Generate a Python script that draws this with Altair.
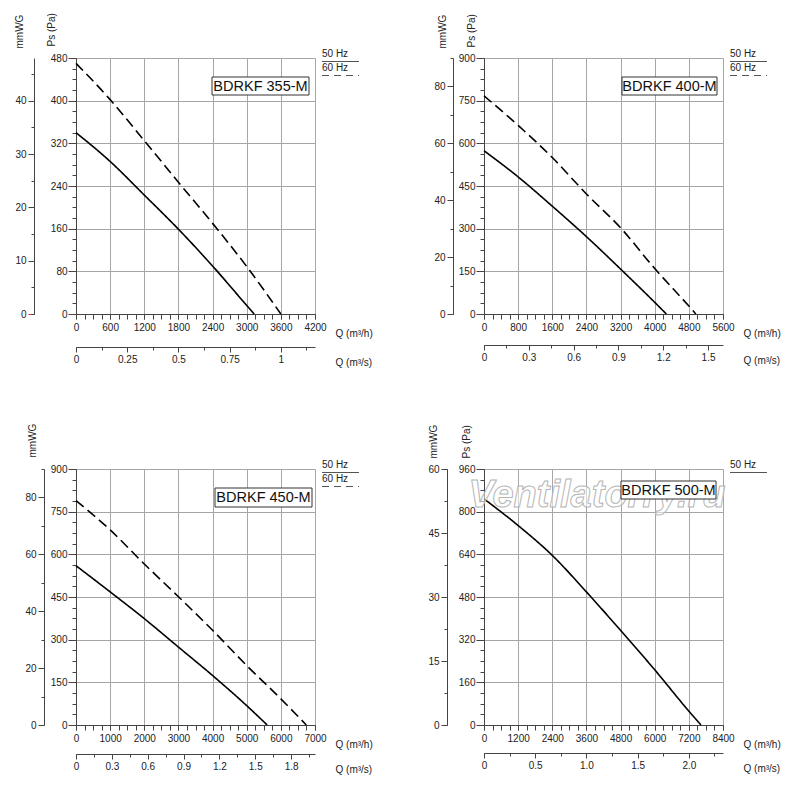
import altair as alt
import pandas as pd

FONT = "Liberation Sans"

# ---------------- data ----------------
models = ["BDRKF 355-M", "BDRKF 400-M", "BDRKF 450-M", "BDRKF 500-M"]
freq_labels = ["50 Hz", "60 Hz"]

q355_50 = [0, 600, 1200, 1800, 2400, 3000, 3130]
p355_50 = [340, 286, 223, 159, 90, 16, 0]
q355_60 = [0, 600, 1200, 1800, 2400, 3000, 3600]
p355_60 = [470, 402, 325, 247, 170, 89, 0]

q400_50 = [0, 800, 1600, 2400, 3200, 4000, 4273]
p400_50 = [574, 482, 379, 272, 158, 41, 0]
q400_60 = [0, 800, 1600, 2400, 3200, 4000, 4800, 4965]
p400_60 = [767, 663, 550, 422, 303, 160, 28, 0]

q450_50 = [0, 1000, 2000, 3000, 4000, 5000, 5600]
p450_50 = [560, 468, 374, 274, 174, 68, 0]
q450_60 = [0, 1000, 2000, 3000, 4000, 5000, 6000, 6746]
p450_60 = [789, 686, 566, 451, 333, 209, 92, 0]

q500_50 = [0, 1200, 2400, 3600, 4800, 6000, 7200, 7625]
p500_50 = [848, 748, 636, 499, 355, 207, 52, 0]

watermark_text = "Ventilatorry.ru"

W, H = 239, 256
AX = "#444444"
LBL = "#222222"
GRID = "#a6a6a6"


def ticks(maxv, step):
    n = int(maxv / step + 1e-6)
    return [round(i * step, 4) for i in range(n + 1)]


def panel(title, curves, sp):
    rows = []
    for freq, qs, ps in curves:
        for q, p in zip(qs, ps):
            rows.append({"Q": q, "P": p, "freq": freq})
    df = pd.DataFrame(rows)
    zero = pd.DataFrame({"a": [0.0], "b": [0.0]})
    one = pd.DataFrame({"t": [title]})

    if sp["pa_title"]:
        pa_kw = dict(title="Ps (Pa)", titleAngle=270, titleAlign="left",
                     titleBaseline="middle", titleX=sp["pa_tx"], titleY=sp["pa_ty"])
    else:
        pa_kw = dict(title=None)

    main = alt.Chart(df).mark_line(color="black", strokeWidth=1.6, interpolate="monotone").encode(
        x=alt.X("Q:Q", scale=alt.Scale(domain=[0, sp["xmax"]], nice=False, zero=False),
                axis=alt.Axis(orient="bottom", values=ticks(sp["xmax"], sp["xmaj"]),
                              labelExpr="format(datum.value, 'd')",
                              grid=True, tickSize=5, labelPadding=3,
                              title="Q (m³/h)", titleX=W + 20, titleY=19, titleAlign="left",
                              titleBaseline="middle", titleAngle=0)),
        y=alt.Y("P:Q", scale=alt.Scale(domain=[0, sp["ymax"]], nice=False, zero=False),
                axis=alt.Axis(orient="left", values=ticks(sp["ymax"], sp["ymaj"]),
                              labelExpr="format(datum.value, 'd')",
                              grid=True, tickSize=8, labelPadding=1, **pa_kw)),
        strokeDash=alt.StrokeDash("freq:N", scale=alt.Scale(domain=freq_labels, range=[[1, 0], [10, 5]]),
                                  legend=None),
        detail="freq:N",
    )

    minor = alt.Chart(zero).mark_point(opacity=0).encode(
        x=alt.X("a:Q", scale=alt.Scale(domain=[0, sp["xmax"]], nice=False, zero=False),
                axis=alt.Axis(orient="bottom", values=ticks(sp["xmax"], sp["xmin"]), labels=False,
                              domain=False, grid=False, tickSize=5, title=None)),
        y=alt.Y("b:Q", scale=alt.Scale(domain=[0, sp["ymax"]], nice=False, zero=False),
                axis=alt.Axis(orient="left", values=ticks(sp["ymax"], sp["ymin"]), labels=False,
                              domain=False, grid=False, tickSize=4, title=None)),
    )

    qs_expr = sp["qs_expr"] or "format(datum.value, '~g')"

    mm_kw = {}
    if sp.get("red_zero"):
        mm_kw = dict(tickColor={"condition": {"test": "datum.value === 0", "value": "#e03030"}, "value": AX})

    sec = alt.Chart(zero).mark_point(opacity=0).encode(
        x=alt.X("a:Q", scale=alt.Scale(domain=[0, sp["qsmax"]], nice=False, zero=False),
                axis=alt.Axis(orient="bottom", offset=sp["qs_off"], values=ticks(sp["qsmax"], sp["qsmaj"]),
                              grid=False, tickSize=5, labelPadding=2, labelExpr=qs_expr,
                              title="Q (m³/s)", titleX=W + 20, titleY=15, titleAlign="left",
                              titleBaseline="middle", titleAngle=0)),
        y=alt.Y("b:Q", scale=alt.Scale(domain=[0, sp["mmmax"]], nice=False, zero=False),
                axis=alt.Axis(orient="left", offset=sp["mm_off"], values=ticks(sp["mmmax"], sp["mmmaj"]),
                              labelExpr="format(datum.value, 'd')", grid=False, tickSize=6, labelPadding=2,
                              title="mmWG", titleAngle=270, titleAlign="left", titleBaseline="middle",
                              titleX=sp["mm_tx"], titleY=sp["mm_ty"], **mm_kw)),
    )

    secminor = alt.Chart(zero).mark_point(opacity=0).encode(
        x=alt.X("a:Q", scale=alt.Scale(domain=[0, sp["qsmax"]], nice=False, zero=False),
                axis=alt.Axis(orient="bottom", offset=sp["qs_off"], values=ticks(sp["qsmax"], sp["qsmin"]),
                              labels=False, domain=False, grid=False, tickSize=3, title=None)),
        y=alt.Y("b:Q", scale=alt.Scale(domain=[0, sp["mmmax"]], nice=False, zero=False),
                axis=alt.Axis(orient="left", offset=sp["mm_off"], values=ticks(sp["mmmax"], sp["mmmin"]),
                              labels=False, domain=False, grid=False, tickSize=3, title=None)),
    )

    layers = [main, minor, sec, secminor]

    # legend (50 Hz solid, 60 Hz dashed)
    nleg = 2 if sp["has60"] else 1
    for i in range(nleg):
        lab = pd.DataFrame({"t": [freq_labels[i]]})
        layers.append(alt.Chart(lab).mark_text(align="left", baseline="middle", font=FONT,
                                               fontSize=10, color=LBL).encode(
            text="t:N", x=alt.value(W + 7), y=alt.value(-4 + 14 * i)))
        rule_kw = {} if i == 0 else {"strokeDash": [7, 5]}
        layers.append(alt.Chart(lab).mark_rule(color="#555555", strokeWidth=1, **rule_kw).encode(
            x=alt.value(W + 7), x2=alt.value(W + 44), y=alt.value(3.5 + 14 * i)))

    if sp.get("watermark"):
        wm = pd.DataFrame({"t": [watermark_text]})
        layers.append(alt.Chart(wm).mark_text(font=FONT, fontSize=38, fontStyle="italic", fontWeight="bold",
                                              fill="white", fillOpacity=0.55, stroke="#b5b5b5",
                                              strokeWidth=1, align="center", baseline="middle").encode(
            text="t:N", x=alt.value(113), y=alt.value(27)))

    bx0, bx1, by0, by1 = sp["box"]
    layers.append(alt.Chart(one).mark_rect(fill="white", stroke="#333333", strokeWidth=1).encode(
        x=alt.value(bx0), x2=alt.value(bx1), y=alt.value(by0), y2=alt.value(by1)))
    layers.append(alt.Chart(one).mark_text(font=FONT, fontSize=14.5, color="#111111",
                                           baseline="middle", align="center").encode(
        text="t:N", x=alt.value((bx0 + bx1) / 2), y=alt.value((by0 + by1) / 2 + 0.5)))

    return alt.layer(*layers).resolve_scale(x="independent", y="independent").properties(width=W, height=H)


specs = [
    dict(xmax=4200, xmaj=600, xmin=150, ymax=480, ymaj=80, ymin=20,
         mmmax=48, mmmaj=10, mmmin=5, qsmax=4200 / 3600, qsmaj=0.25, qsmin=0.125, qs_expr=None,
         mm_off=42, qs_off=33, pa_title=True, pa_tx=-25, pa_ty=-12, mm_tx=-15, mm_ty=-10,
         box=(136, 233, 19, 37), has60=True, red_zero=True),
    dict(xmax=5600, xmaj=800, xmin=200, ymax=900, ymaj=150, ymin=37.5,
         mmmax=90, mmmaj=20, mmmin=10, qsmax=1.6, qsmaj=0.3, qsmin=0.15, qs_expr=None,
         mm_off=31, qs_off=31, pa_title=True, pa_tx=-13, pa_ty=-11, mm_tx=-11, mm_ty=-10,
         box=(138, 233, 19, 37), has60=True),
    dict(xmax=7000, xmaj=1000, xmin=250, ymax=900, ymaj=150, ymin=37.5,
         mmmax=90, mmmaj=20, mmmin=10, qsmax=2.0, qsmaj=0.3, qsmin=0.15, qs_expr=None,
         mm_off=32, qs_off=29, pa_title=False, mm_tx=-12, mm_ty=-12,
         box=(139, 236, 19, 38), has60=True),
    dict(xmax=8400, xmaj=1200, xmin=300, ymax=960, ymaj=160, ymin=40,
         mmmax=60, mmmaj=15, mmmin=7.5, qsmax=8400 / 3600, qsmaj=0.5, qsmin=0.25,
         qs_expr="datum.value == 0 ? '0' : format(datum.value, '.1f')",
         mm_off=37, qs_off=28, pa_title=True, pa_tx=-18, pa_ty=-11, mm_tx=-14, mm_ty=-11,
         box=(137, 232, 12, 30), has60=False, watermark=True),
]

curves = [
    [("50 Hz", q355_50, p355_50), ("60 Hz", q355_60, p355_60)],
    [("50 Hz", q400_50, p400_50), ("60 Hz", q400_60, p400_60)],
    [("50 Hz", q450_50, p450_50), ("60 Hz", q450_60, p450_60)],
    [("50 Hz", q500_50, p500_50)],
]

panels = [panel(m, c, s) for m, c, s in zip(models, curves, specs)]

chart = alt.concat(*panels, columns=2, spacing={"row": 155, "column": 169}, bounds="flush").properties(
    padding={"left": 5, "top": 4, "right": 5, "bottom": 5}
).configure_view(stroke="transparent").configure_axis(
    labelFont=FONT, titleFont=FONT, labelFontSize=10, titleFontSize=10, titleFontWeight="normal",
    labelColor=LBL, titleColor=LBL, domainColor=AX, tickColor=AX, gridColor=GRID, gridWidth=1,
    domainWidth=1, tickWidth=1, labelFlush=False, labelOverlap=False
)

chart.save("out.html", embed_options={"renderer": "svg", "actions": False})
